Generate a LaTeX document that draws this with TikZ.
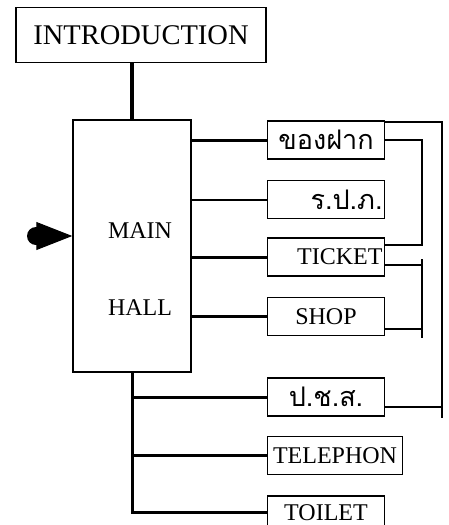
\documentclass[tikz,border=0pt]{standalone}
\usepackage{fontspec}
\setmainfont{Liberation Serif}
\newfontfamily\thai[Script=Thai]{Loma}
\usetikzlibrary{arrows.meta,positioning,calc}

\begin{document}
\begin{tikzpicture}[x=1pt,y=-1pt,font=\fontsize{24}{26}\selectfont,
   b/.style={draw,line width=1.5pt,minimum width=117pt,minimum height=38pt,
             inner xsep=2pt,inner ysep=0pt,text width=113pt,align=center},
   th/.style={font=\thai\fontsize{27}{29}\selectfont},
   ln/.style={line width=3pt},
   bus/.style={line width=1.8pt}]
  \useasboundingbox (0,0) rectangle (449,525);
  \node[draw,line width=1.5pt,minimum width=250pt,minimum height=55pt,
        font=\fontsize{28.5}{30}\selectfont] (intro) at (141,35) {INTRODUCTION};
  \node[draw,line width=1.5pt,minimum width=118pt,minimum height=252pt] (mh) at (132,246) {};
  \node (mtxt) at (140,231) {MAIN};
  \node (htxt) at (140,308) {HALL};
  % rooms off the hall
  \node[b,th] (kf) at (326,140) {ของฝาก};
  \node[b,th,align=right,below=20pt of kf] (rpp) {ร.ป.ภ.};
  \node[b,align=right,below=18pt of rpp] (tk) {TICKET};
  \node[b,below=20pt of tk] (sh) {SHOP};
  \node[b,th,below=41pt of sh] (pcs) {ป.ช.ส.};
  \node[b,minimum width=135pt,text width=131pt,below=19pt of pcs.south west,anchor=north west] (tel) {TELEPHON};
  \node[b,minimum height=33pt,below=20pt of tel.south west,anchor=north west] (wc) {TOILET};
  % entrance
  \coordinate (tail) at (36,236);
  \fill (tail) circle (9pt);
  \draw[line width=1pt,-{Triangle[length=36pt,width=28pt]}] (tail) -- (mh.west |- tail);
  % links
  \draw[line width=3.6pt] (intro.south -| mh.north) -- (mh.north);
  \draw[ln] (mh.east |- kf) -- (kf.west);
  \draw[line width=2pt] (mh.east |- rpp) -- (rpp.west);
  \draw[ln] (mh.east |- tk) -- (tk.west);
  \draw[ln] (mh.east |- sh) -- (sh.west);
  \draw[ln] (mh.south) -- (mh.south |- wc.west) -- (wc.west);
  \draw[ln] (mh.south |- pcs) -- (pcs.west);
  \draw[ln] (mh.south |- tel) -- (tel.west);
  % right side buses
  \coordinate (bx) at (422,0);
  \coordinate (ox) at (442,0);
  \draw[bus] (kf.east) -| ($(bx |- tk.north)+(0,8)$) -- ($(tk.north east)+(0,8)$);
  \draw[bus] ($(tk.south east)+(0,-12)$) -- ($(bx |- tk.south)+(0,-12)$);
  \draw[bus] ($(bx |- tk)+(0,2)$) -- ($(bx |- sh.south)+(0,2)$);
  \draw[bus] ($(sh.south east)+(0,-7)$) -- ($(bx |- sh.south)+(0,-7)$);
  \draw[bus] ($(kf.north east)+(0,2)$) -| ($(ox |- pcs.south)+(0,1)$);
  \draw[bus] ($(pcs.south east)+(0,-10)$) -- ($(ox |- pcs.south)+(0,-10)$);
\end{tikzpicture}
\end{document}
